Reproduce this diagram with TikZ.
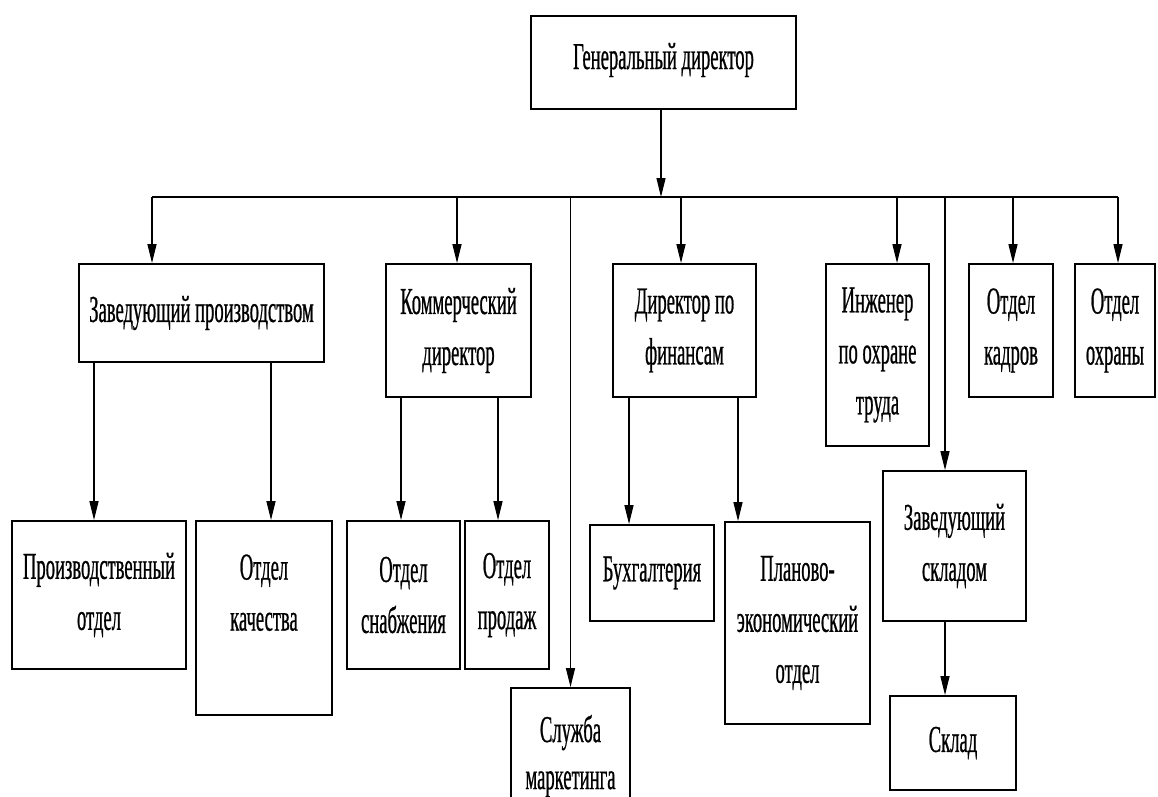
\documentclass[tikz,border=0pt]{standalone}
\usepackage{fontspec}
\setmainfont[FakeStretch=0.49,FakeBold=0.6]{Liberation Serif}
\usetikzlibrary{arrows.meta,positioning,calc}

\begin{document}
\begin{tikzpicture}[x=1pt,y=-1pt]
    \tikzset{
      box/.style={draw=black,line width=1.8pt,fill=white,align=center,inner sep=0pt,font=\fontsize{38}{51}\selectfont},
      arrow/.style={-{Triangle[length=19pt,width=9pt]},draw=black,line width=1.2pt},
      line/.style={draw=black,line width=1.2pt}
    }
    \useasboundingbox (0,0) rectangle (1158,796);
    \fill[white] (0,0) rectangle (1158,796);
    \clip (0,0) rectangle (1158,796);
    % top level
    \node[box,minimum width=265pt,minimum height=93pt] (gendir) at (663.5,62.5) {Генеральный директор\\[-38pt]\mbox{}};
    \coordinate (bus) at (661,197);
    % second row
    \node[box,minimum width=245pt,minimum height=98pt] (proizv) at (201.5,313) {Заведующий производством};
    \node[box,minimum width=145pt,minimum height=133pt] (kommerch) at (458.5,330.5) {Коммерческий\\директор};
    \node[box,minimum width=143pt,minimum height=133pt] (finance) at (684.5,330.5) {Директор по\\финансам};
    \node[box,minimum width=103pt,minimum height=182pt] (engineer) at (877.5,355) {Инженер\\по охране\\труда};
    \node[box,minimum width=84pt,minimum height=133pt] (hr) at (1011,330.5) {Отдел\\кадров};
    \node[box,minimum width=80pt,minimum height=133pt] (security) at (1115,330.5) {Отдел\\охраны};
    \node[box,minimum width=143pt,minimum height=150pt] (warehead) at (954.5,546) {Заведующий\\складом};
    % third row
    \node[box,minimum width=174pt,minimum height=148pt] (prodotdel) at (99,595) {Производственный\\отдел};
    \node[box,minimum width=136pt,minimum height=194pt] (quality) at (264,618) {Отдел\\качества\\\mbox{}};
    \node[box,minimum width=113pt,minimum height=148pt] (supply) at (403.5,595) {Отдел\\снабжения};
    \node[box,minimum width=84pt,minimum height=148pt] (sales) at (507,595) {Отдел\\продаж};
    \node[box,minimum width=119pt,minimum height=136pt] (marketing) at (570.5,756) {Служба\\[-4pt]маркетинга};
    \node[box,minimum width=124pt,minimum height=96pt] (accounting) at (652,573) {Бухгалтерия};
    \node[box,minimum width=145pt,minimum height=202pt] (planning) at (797.5,623) {Планово-\\экономический\\отдел};
    \node[box,minimum width=126pt,minimum height=94pt] (warehouse) at (953,743) {Склад};
    % bus
    \draw[line] ([xshift=-49.5pt]proizv.north |- bus) -- ([xshift=3pt]security.north |- bus);
    \draw[arrow] ([xshift=-2.5pt]gendir.south) -- ([xshift=-2.5pt]gendir.south |- bus);
    \draw[arrow] ([xshift=-49.5pt]proizv.north |- bus) -- ([xshift=-49.5pt]proizv.north);
    \draw[arrow] ([xshift=-1.5pt]kommerch.north |- bus) -- ([xshift=-1.5pt]kommerch.north);
    \draw[arrow] (marketing.north |- bus) -- (marketing.north);
    \draw[arrow] ([xshift=-3.5pt]finance.north |- bus) -- ([xshift=-3.5pt]finance.north);
    \draw[arrow] ([xshift=19.5pt]engineer.north |- bus) -- ([xshift=19.5pt]engineer.north);
    \draw[arrow] ([xshift=-9.5pt]warehead.north |- bus) -- ([xshift=-9.5pt]warehead.north);
    \draw[arrow] ([xshift=2pt]hr.north |- bus) -- ([xshift=2pt]hr.north);
    \draw[arrow] ([xshift=3pt]security.north |- bus) -- ([xshift=3pt]security.north);
    % subordinates
    \draw[arrow] ([xshift=-5pt]prodotdel.north |- proizv.south) -- ([xshift=-5pt]prodotdel.north);
    \draw[arrow] ([xshift=7pt]quality.north |- proizv.south) -- ([xshift=7pt]quality.north);
    \draw[arrow] ([xshift=-2.5pt]supply.north |- kommerch.south) -- ([xshift=-2.5pt]supply.north);
    \draw[arrow] ([xshift=-9pt]sales.north |- kommerch.south) -- ([xshift=-9pt]sales.north);
    \draw[arrow] ([xshift=-23pt]accounting.north |- finance.south) -- ([xshift=-23pt]accounting.north);
    \draw[arrow] ([xshift=-59.5pt]planning.north |- finance.south) -- ([xshift=-59.5pt]planning.north);
    \draw[arrow] ([xshift=-8pt]warehouse.north |- warehead.south) -- ([xshift=-8pt]warehouse.north);
  \end{tikzpicture}
\end{document}
